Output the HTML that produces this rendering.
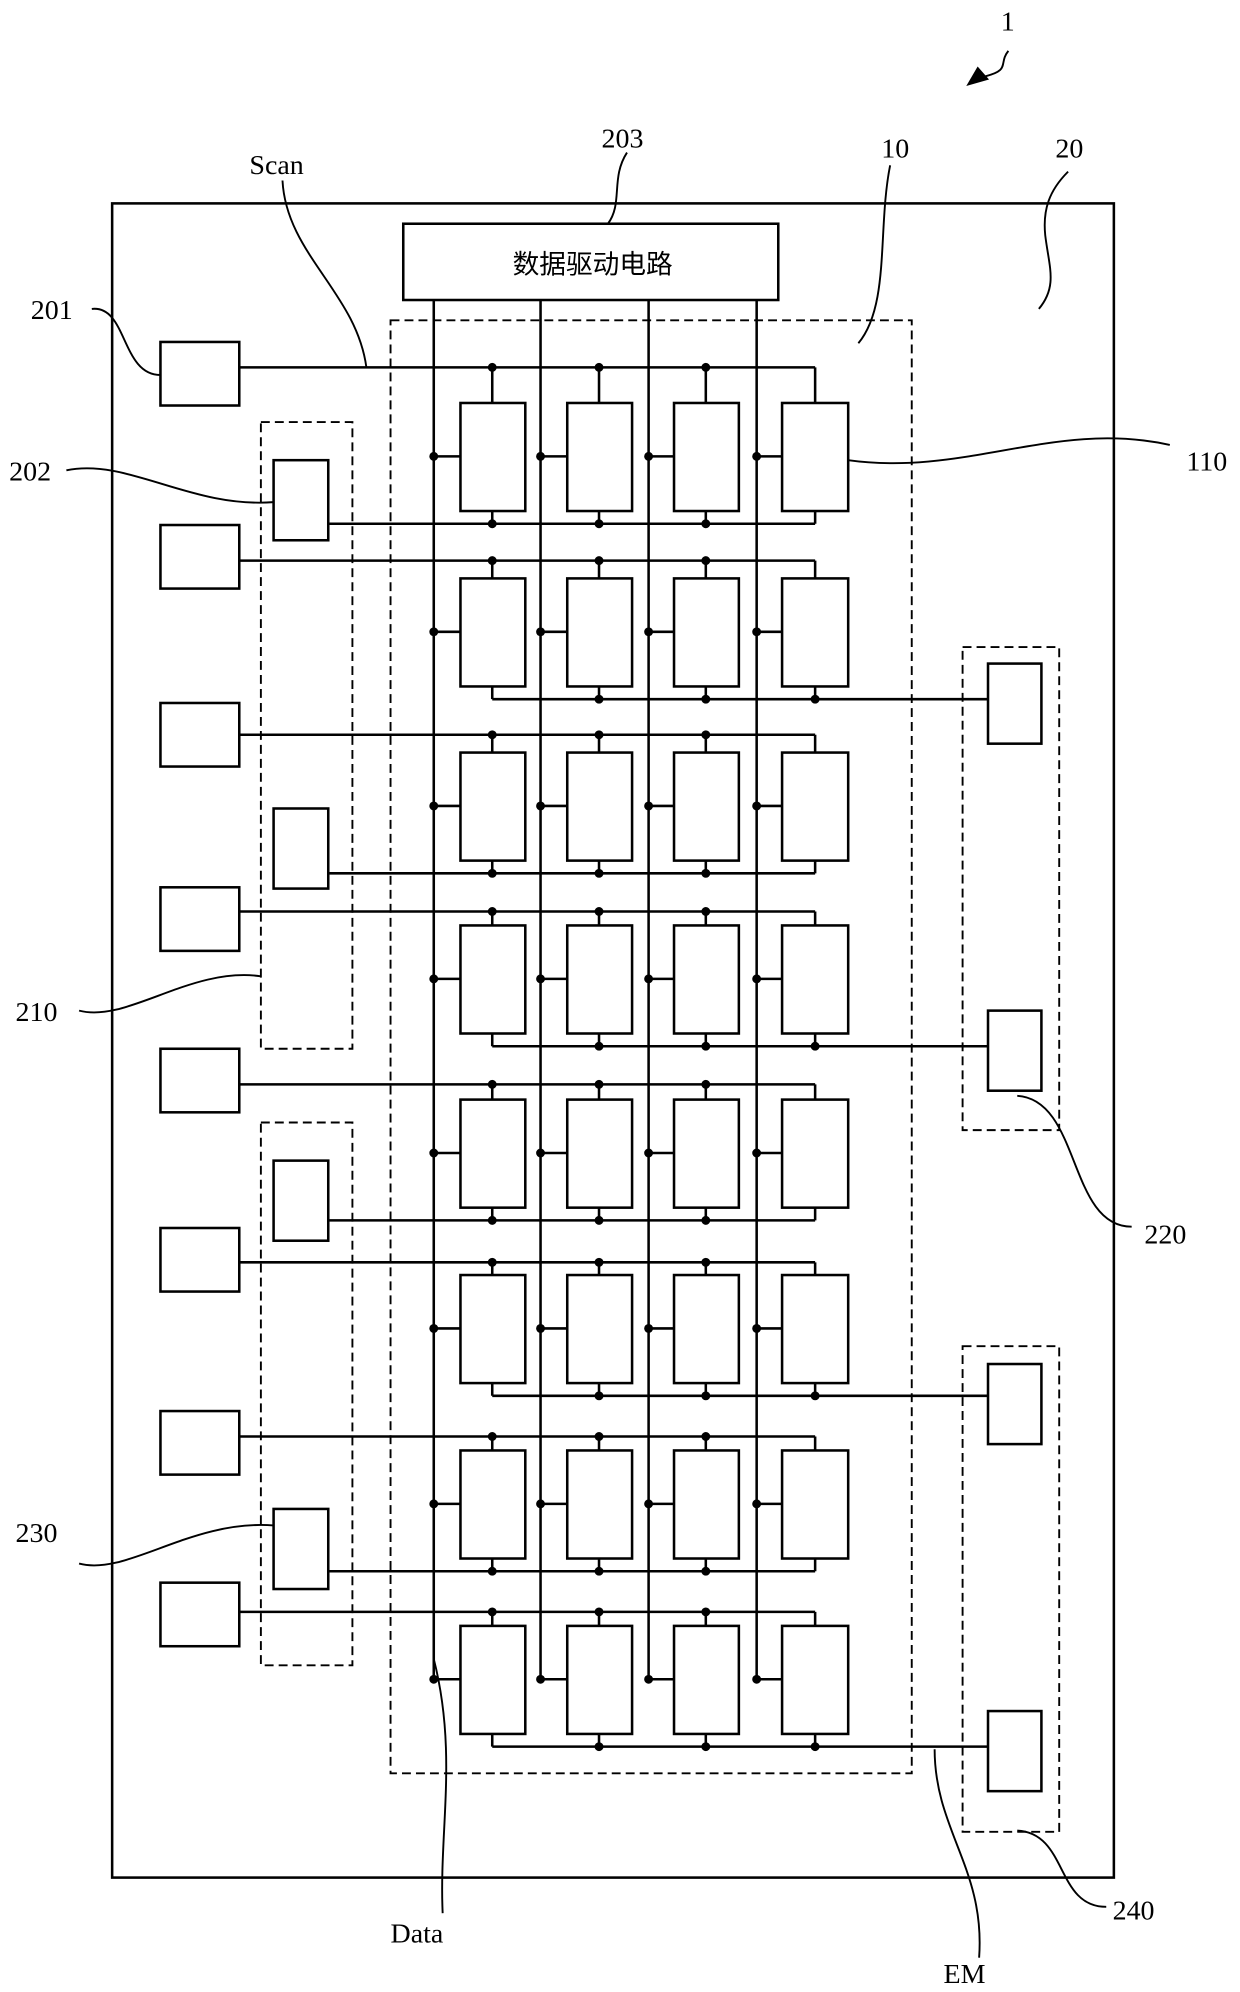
<!DOCTYPE html>
<html><head><meta charset="utf-8"><style>html,body{margin:0;padding:0;background:#fff}svg{display:block}</style></head>
<body>
<svg width="1240" height="1992" viewBox="0 0 975 1567" xmlns="http://www.w3.org/2000/svg" font-family="Liberation Serif, serif" font-size="22">
<g fill="none" stroke="#000" stroke-width="2">
<rect x="88" y="160" width="788" height="1317"/>
<rect x="317" y="176" width="295" height="60"/>
<rect x="307" y="252" width="410" height="1143" stroke-dasharray="7,4" stroke-width="1.5"/>
<rect x="205" y="332" width="72" height="493" stroke-dasharray="7,4" stroke-width="1.5"/>
<rect x="205" y="883" width="72" height="427" stroke-dasharray="7,4" stroke-width="1.5"/>
<rect x="757" y="509" width="76" height="380" stroke-dasharray="7,4" stroke-width="1.5"/>
<rect x="757" y="1059" width="76" height="382" stroke-dasharray="7,4" stroke-width="1.5"/>
<path d="M341 236V1320M425 236V1320M510 236V1320M595 236V1320"/>
<path d="M793 40 C785 50,795 55,775 60" stroke-width="1.5"/>
<path d="M762 66 l14 -4 l-7 -8z" fill="#000"/>
<path d="M493 120 C480 140,490 160,478 176" stroke-width="1.5"/>
<path d="M700 130 C690 180,700 240,675 270" stroke-width="1.5"/>
<path d="M840 135 C825 150,820 165,822 185 C825 210,832 225,817 243" stroke-width="1.5"/>
<path d="M222 142 C225 200,280 230,288 289" stroke-width="1.5"/>
<path d="M72 243 C100 240,95 295,126 295" stroke-width="1.5"/>
<path d="M52 370 C100 360,150 400,215 395" stroke-width="1.5"/>
<path d="M667 362 C760 375,830 330,920 350" stroke-width="1.5"/>
<path d="M62 795 C100 805,150 760,205 768" stroke-width="1.5"/>
<path d="M800 862 C850 865,840 965,890 965" stroke-width="1.5"/>
<path d="M62 1230 C100 1240,150 1195,215 1200" stroke-width="1.5"/>
<path d="M800 1440 C840 1442,830 1500,870 1500" stroke-width="1.5"/>
<path d="M341 1305 C360 1380,345 1440,348 1505" stroke-width="1.5"/>
<path d="M735 1376 C735 1440,775 1470,770 1540" stroke-width="1.5"/>
</g>
<g id="rows" fill="none" stroke="#000" stroke-width="2"></g>
<g font-size="22" fill="#000">
<text x="787" y="24">1</text>
<text x="473" y="116">203</text>
<text x="693" y="124">10</text>
<text x="830" y="124">20</text>
<text x="196" y="137">Scan</text>
<text x="24" y="251">201</text>
<text x="7" y="378">202</text>
<text x="933" y="370">110</text>
<text x="12" y="803">210</text>
<text x="900" y="978">220</text>
<text x="12" y="1213">230</text>
<text x="875" y="1510">240</text>
<text x="307" y="1528">Data</text>
<text x="742" y="1560">EM</text>
<text x="403" y="215" font-family="Liberation Sans, Noto Sans CJK SC, sans-serif" font-size="21">数据驱动电路</text>
</g>
<script>
const g=document.getElementById('rows');const NS='http://www.w3.org/2000/svg';
function el(t,a){const e=document.createElementNS(NS,t);for(const k in a)e.setAttribute(k,a[k]);g.appendChild(e);return e;}
const tops=[317,455,592,728,865,1003,1141,1279];
const scanBox=[269,413,553,698,825,966,1110,1245];
const scanY=[289,441,578,717,853,993,1130,1268];
const px=[362,446,530,615],dx=[341,425,510,595];
for(let i=0;i<8;i++){const t=tops[i];
 el('rect',{x:126,y:scanBox[i],width:62,height:50});
 el('path',{d:`M188 ${scanY[i]}H641`});
 for(let j=0;j<4;j++){const cx=px[j]+(j==3?26:25);
  el('rect',{x:px[j],y:t,width:j==3?52:51,height:85});
  el('path',{d:`M${cx} ${scanY[i]}V${t}M${cx} ${t+85}V${t+95}M${dx[j]} ${t+42}H${px[j]}`});
  if(j<3)el('circle',{cx:cx,cy:scanY[i],r:2.5,fill:'#000'});
  el('circle',{cx:dx[j],cy:t+42,r:2.5,fill:'#000'});
  if(j>0&&j<3||(i%2==0&&j==0)||(i%2==1&&j==3))el('circle',{cx:cx,cy:t+95,r:2.5,fill:'#000'});
 }
 if(i%2==0)el('path',{d:`M259 ${t+95}H641`});else el('path',{d:`M387 ${t+95}H777`});
}
[362,636,913,1187].forEach(y=>el('rect',{x:215,y:y,width:43,height:63}));
[522,795,1073,1346].forEach(y=>el('rect',{x:777,y:y,width:42,height:63}));
</script>
</svg>
</body></html>
